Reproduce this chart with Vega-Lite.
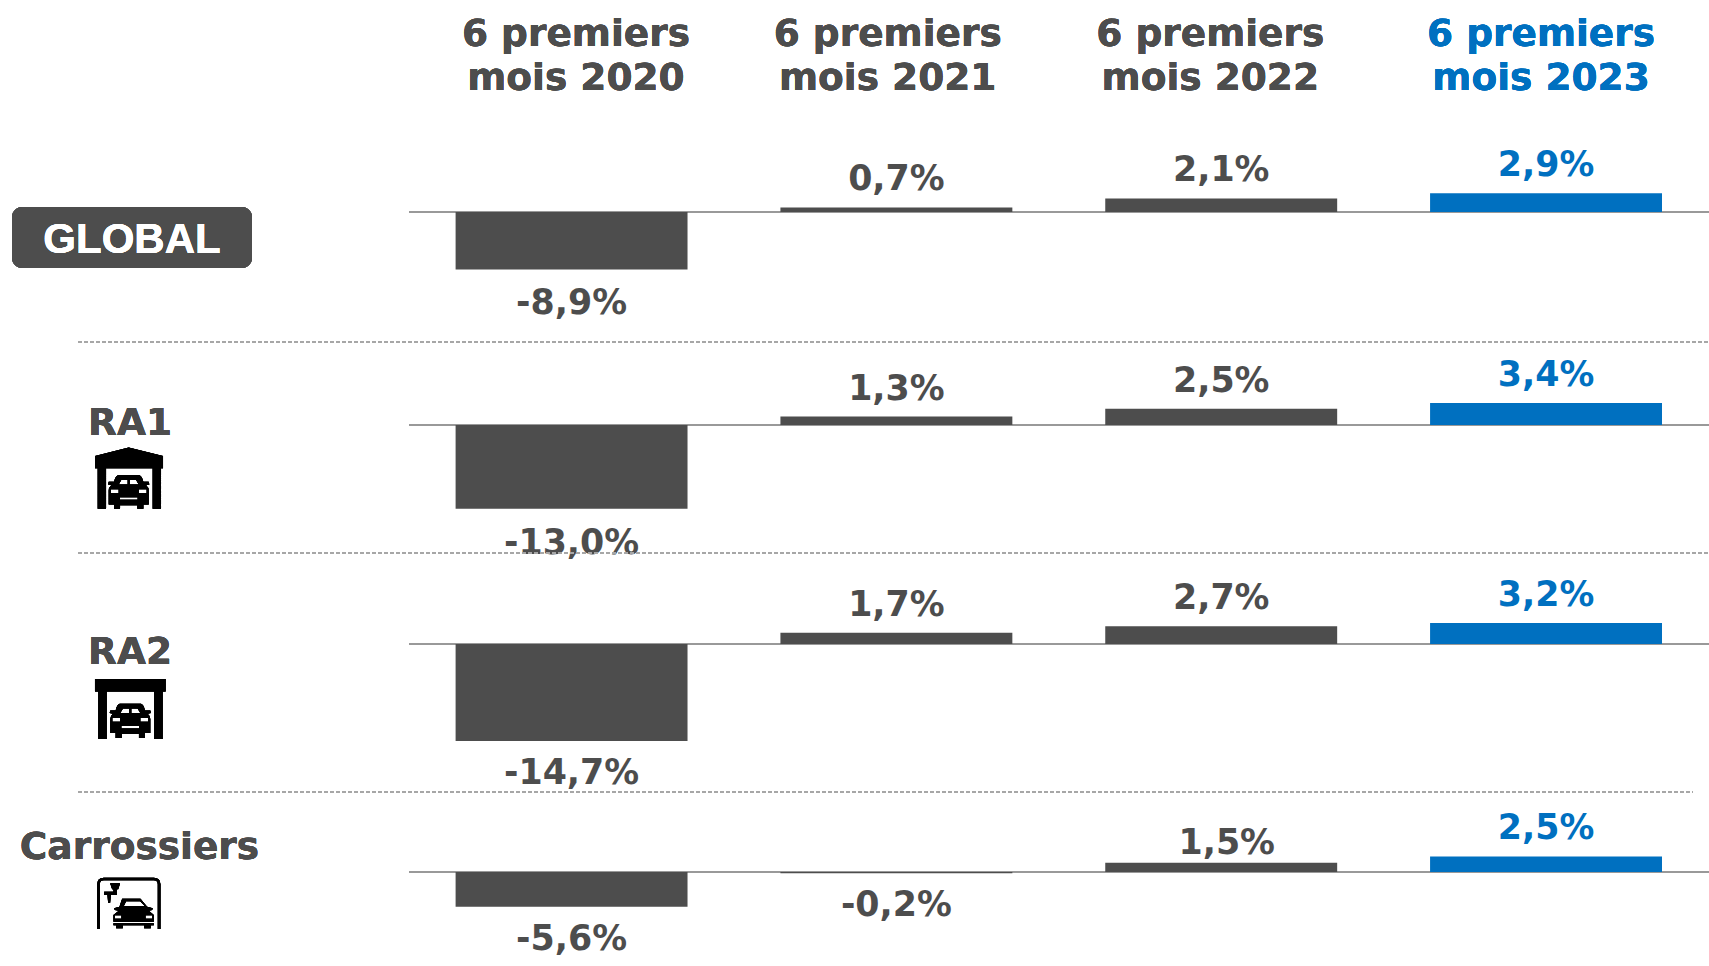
{
"$schema":"https://vega.github.io/schema/vega-lite/v6.json",
"padding":0,"background":"white","spacing":0,"bounds":"flush",
"config":{"view":{"stroke":null},"axis":{"disable":true},"legend":{"disable":true},"text":{"font":"DejaVu Sans","fontWeight":"bold"}},
"datasets":{"d":[
{"row":"GLOBAL","period":"2020","value":-8.9,"label":"-8,9%"},{"row":"GLOBAL","period":"2021","value":0.7,"label":"0,7%"},{"row":"GLOBAL","period":"2022","value":2.1,"label":"2,1%"},{"row":"GLOBAL","period":"2023","value":2.9,"label":"2,9%"},
{"row":"RA1","period":"2020","value":-13.0,"label":"-13,0%"},{"row":"RA1","period":"2021","value":1.3,"label":"1,3%"},{"row":"RA1","period":"2022","value":2.5,"label":"2,5%"},{"row":"RA1","period":"2023","value":3.4,"label":"3,4%"},
{"row":"RA2","period":"2020","value":-14.7,"label":"-14,7%"},{"row":"RA2","period":"2021","value":1.7,"label":"1,7%"},{"row":"RA2","period":"2022","value":2.7,"label":"2,7%"},{"row":"RA2","period":"2023","value":3.2,"label":"3,2%"},
{"row":"Carrossiers","period":"2020","value":-5.6,"label":"-5,6%"},{"row":"Carrossiers","period":"2021","value":-0.2,"label":"-0,2%"},{"row":"Carrossiers","period":"2022","value":1.5,"label":"1,5%"},{"row":"Carrossiers","period":"2023","value":2.5,"label":"2,5%"}
]},
"vconcat":[
{"width":1709,"height":342,"data":{"name":"d"},"transform":[{"filter":"datum.row==='GLOBAL'"}],"resolve":{"scale":{"x":"independent"}},
"layer":[
{"mark":{"type":"rule","color":"#999999","strokeWidth":2},"encoding":{"x":{"datum":0,"type":"quantitative","scale":{"domain":[0,1],"range":[409,1709]}},"x2":{"datum":1},"y":{"datum":0,"type":"quantitative","scale":{"domain":[-20.155,32.868],"nice":false,"zero":false}}}},
{"mark":{"type":"bar"},"encoding":{"x":{"field":"period","type":"nominal","scale":{"type":"band","domain":["2020","2021","2022","2023"],"range":[455.6,1662],"paddingInner":0.286,"paddingOuter":0}},"y":{"field":"value","type":"quantitative"},"color":{"field":"period","type":"nominal","scale":{"domain":["2020","2021","2022","2023"],"range":["#4d4d4d","#4d4d4d","#4d4d4d","#0070c0"]}}}},
{"transform":[{"filter":"datum.value>0"}],"mark":{"type":"text","fontSize":34.8,"dy":-27,"baseline":"middle"},"encoding":{"x":{"field":"period","type":"nominal","scale":{"type":"band","domain":["2020","2021","2022","2023"],"range":[455.6,1662],"paddingInner":0.286,"paddingOuter":0}},"y":{"field":"value","type":"quantitative"},"text":{"field":"label"},"color":{"field":"period","type":"nominal"}}},
{"transform":[{"filter":"datum.value<0"}],"mark":{"type":"text","fontSize":34.8,"dy":35,"baseline":"middle"},"encoding":{"x":{"field":"period","type":"nominal","scale":{"type":"band","domain":["2020","2021","2022","2023"],"range":[455.6,1662],"paddingInner":0.286,"paddingOuter":0}},"y":{"field":"value","type":"quantitative"},"text":{"field":"label"},"color":{"field":"period","type":"nominal"}}},
{"mark":{"type":"text","fontSize":37.5,"lineHeight":44,"baseline":"middle","dx":4.4,"color":"#4d4d4d"},"encoding":{"x":{"datum":"2020","type":"nominal","scale":{"type":"band","domain":["2020","2021","2022","2023"],"range":[455.6,1662],"paddingInner":0.286,"paddingOuter":0}},"y":{"datum":27.4},"text":{"value":["6 premiers","mois 2020"]}}},
{"mark":{"type":"text","fontSize":37.5,"lineHeight":44,"baseline":"middle","dx":-8.7,"color":"#4d4d4d"},"encoding":{"x":{"datum":"2021","type":"nominal","scale":{"type":"band","domain":["2020","2021","2022","2023"],"range":[455.6,1662],"paddingInner":0.286,"paddingOuter":0}},"y":{"datum":27.4},"text":{"value":["6 premiers","mois 2021"]}}},
{"mark":{"type":"text","fontSize":37.5,"lineHeight":44,"baseline":"middle","dx":-10.9,"color":"#4d4d4d"},"encoding":{"x":{"datum":"2022","type":"nominal","scale":{"type":"band","domain":["2020","2021","2022","2023"],"range":[455.6,1662],"paddingInner":0.286,"paddingOuter":0}},"y":{"datum":27.4},"text":{"value":["6 premiers","mois 2022"]}}},
{"mark":{"type":"text","fontSize":37.5,"lineHeight":44,"baseline":"middle","dx":-5,"color":"#0070c0"},"encoding":{"x":{"datum":"2023","type":"nominal","scale":{"type":"band","domain":["2020","2021","2022","2023"],"range":[455.6,1662],"paddingInner":0.286,"paddingOuter":0}},"y":{"datum":27.4},"text":{"value":["6 premiers","mois 2023"]}}},
{"mark":{"type":"rect","color":"#4d4d4d","cornerRadius":10},"encoding":{"x":{"datum":"GLOBAL","type":"nominal","scale":{"type":"band","domain":["GLOBAL"],"range":[12,252],"paddingInner":0,"paddingOuter":0}},"y":{"datum":0.775},"y2":{"datum":-8.68}}},
{"mark":{"type":"text","fontSize":42,"font":"Liberation Sans","color":"white","baseline":"middle"},"encoding":{"x":{"datum":"GLOBAL","type":"nominal","scale":{"type":"band","domain":["GLOBAL"],"range":[12,252],"paddingInner":0,"paddingOuter":0}},"y":{"datum":-4.36},"text":{"value":"GLOBAL"}}},
{"mark":{"type":"rule","color":"#a6a6a6","strokeWidth":1.5,"strokeDash":[4,2]},"encoding":{"x":{"datum":0,"type":"quantitative","scale":{"domain":[0,1],"range":[78,1709]}},"x2":{"datum":1},"y":{"datum":-20.155}}}
]},
{"width":1709,"height":211,"data":{"name":"d"},"transform":[{"filter":"datum.row==='RA1'"}],"resolve":{"scale":{"x":"independent"}},
"layer":[
{"mark":{"type":"rule","color":"#999999","strokeWidth":2},"encoding":{"x":{"datum":0,"type":"quantitative","scale":{"domain":[0,1],"range":[409,1709]}},"x2":{"datum":1},"y":{"datum":0,"type":"quantitative","scale":{"domain":[-19.845,12.868],"nice":false,"zero":false}}}},
{"mark":{"type":"bar"},"encoding":{"x":{"field":"period","type":"nominal","scale":{"type":"band","domain":["2020","2021","2022","2023"],"range":[455.6,1662],"paddingInner":0.286,"paddingOuter":0}},"y":{"field":"value","type":"quantitative"},"color":{"field":"period","type":"nominal","scale":{"domain":["2020","2021","2022","2023"],"range":["#4d4d4d","#4d4d4d","#4d4d4d","#0070c0"]}}}},
{"transform":[{"filter":"datum.value>0"}],"mark":{"type":"text","fontSize":34.8,"dy":-27,"baseline":"middle"},"encoding":{"x":{"field":"period","type":"nominal","scale":{"type":"band","domain":["2020","2021","2022","2023"],"range":[455.6,1662],"paddingInner":0.286,"paddingOuter":0}},"y":{"field":"value","type":"quantitative"},"text":{"field":"label"},"color":{"field":"period","type":"nominal"}}},
{"transform":[{"filter":"datum.value<0"}],"mark":{"type":"text","fontSize":34.8,"dy":35,"baseline":"middle"},"encoding":{"x":{"field":"period","type":"nominal","scale":{"type":"band","domain":["2020","2021","2022","2023"],"range":[455.6,1662],"paddingInner":0.286,"paddingOuter":0}},"y":{"field":"value","type":"quantitative"},"text":{"field":"label"},"color":{"field":"period","type":"nominal"}}},
{"mark":{"type":"text","fontSize":37.5,"baseline":"middle","color":"#4d4d4d"},"encoding":{"x":{"datum":"RA1","type":"nominal","scale":{"type":"band","domain":["RA1"],"range":[120,140],"paddingInner":0,"paddingOuter":0}},"y":{"datum":0.17},"text":{"value":"RA1"}}},
{"mark":{"type":"point","filled":true,"opacity":1,"color":"black","size":0.444,"shape":"M0,-93 L-101,-68 L-101,-31 L103,-31 L103,-68 Z M-93,-31 L-68,-31 L-68,91 L-93,91 Z M72,-31 L97,-31 L97,91 L72,91 Z M-32,-10 L32,-10 Q40,-8 44,10 L60,10 L62,18 L52,20 Q60,26 60,36 L60,78 L44,78 L44,91 L26,91 L26,80 L-26,80 L-26,91 L-44,91 L-44,78 L-60,78 L-60,36 Q-60,26 -52,20 L-62,18 L-60,10 L-44,10 Q-40,-8 -32,-10 Z M-30,18 L-3,18 L-3,4 L-22,4 Z M3,18 L30,18 L22,4 L3,4 Z M-54,44 L-30,44 L-30,32 L-54,32 Z M30,44 L54,44 L54,32 L30,32 Z M-27,64 L27,64 L27,56 L-27,56 Z"},"encoding":{"x":{"datum":"RA1","type":"nominal","scale":{"type":"band","domain":["RA1"],"range":[118.7,138.7],"paddingInner":0,"paddingOuter":0}},"y":{"datum":-8.3}}},
{"mark":{"type":"rule","color":"#a6a6a6","strokeWidth":1.5,"strokeDash":[4,2]},"encoding":{"x":{"datum":0,"type":"quantitative","scale":{"domain":[0,1],"range":[78,1709]}},"x2":{"datum":1},"y":{"datum":-19.845}}}
]},
{"width":1709,"height":239,"data":{"name":"d"},"transform":[{"filter":"datum.row==='RA2'"}],"resolve":{"scale":{"x":"independent"}},
"layer":[
{"mark":{"type":"rule","color":"#999999","strokeWidth":2},"encoding":{"x":{"datum":0,"type":"quantitative","scale":{"domain":[0,1],"range":[409,1709]}},"x2":{"datum":1},"y":{"datum":0,"type":"quantitative","scale":{"domain":[-22.424,13.788],"nice":false,"zero":false}}}},
{"mark":{"type":"bar"},"encoding":{"x":{"field":"period","type":"nominal","scale":{"type":"band","domain":["2020","2021","2022","2023"],"range":[455.6,1662],"paddingInner":0.286,"paddingOuter":0}},"y":{"field":"value","type":"quantitative"},"color":{"field":"period","type":"nominal","scale":{"domain":["2020","2021","2022","2023"],"range":["#4d4d4d","#4d4d4d","#4d4d4d","#0070c0"]}}}},
{"transform":[{"filter":"datum.value>0"}],"mark":{"type":"text","fontSize":34.8,"dy":-27,"baseline":"middle"},"encoding":{"x":{"field":"period","type":"nominal","scale":{"type":"band","domain":["2020","2021","2022","2023"],"range":[455.6,1662],"paddingInner":0.286,"paddingOuter":0}},"y":{"field":"value","type":"quantitative"},"text":{"field":"label"},"color":{"field":"period","type":"nominal"}}},
{"transform":[{"filter":"datum.value<0"}],"mark":{"type":"text","fontSize":34.8,"dy":33,"baseline":"middle"},"encoding":{"x":{"field":"period","type":"nominal","scale":{"type":"band","domain":["2020","2021","2022","2023"],"range":[455.6,1662],"paddingInner":0.286,"paddingOuter":0}},"y":{"field":"value","type":"quantitative"},"text":{"field":"label"},"color":{"field":"period","type":"nominal"}}},
{"mark":{"type":"text","fontSize":37.5,"baseline":"middle","color":"#4d4d4d"},"encoding":{"x":{"datum":"RA2","type":"nominal","scale":{"type":"band","domain":["RA2"],"range":[120,140],"paddingInner":0,"paddingOuter":0}},"y":{"datum":-1.29},"text":{"value":"RA2"}}},
{"mark":{"type":"point","filled":true,"opacity":1,"color":"black","size":0.444,"shape":"M-106,-90 L106,-90 L106,-53 L-106,-53 Z M-96,-53 L-71,-53 L-71,90 L-96,90 Z M72,-53 L97,-53 L97,90 L72,90 Z M-32,-16 L32,-16 Q40,-14 44,4 L60,4 L62,12 L52,14 Q60,20 60,30 L60,72 L44,72 L44,87 L26,87 L26,74 L-26,74 L-26,87 L-44,87 L-44,72 L-60,72 L-60,30 Q-60,20 -52,14 L-62,12 L-60,4 L-44,4 Q-40,-14 -32,-16 Z M-30,12 L-3,12 L-3,-2 L-22,-2 Z M3,12 L30,12 L22,-2 L3,-2 Z M-54,38 L-30,38 L-30,26 L-54,26 Z M30,38 L54,38 L54,26 L30,26 Z M-27,58 L27,58 L27,50 L-27,50 Z"},"encoding":{"x":{"datum":"RA2","type":"nominal","scale":{"type":"band","domain":["RA2"],"range":[120.3,140.3],"paddingInner":0,"paddingOuter":0}},"y":{"datum":-9.86}}},
{"mark":{"type":"rule","color":"#a6a6a6","strokeWidth":1.5,"strokeDash":[4,2]},"encoding":{"x":{"datum":0,"type":"quantitative","scale":{"domain":[0,1],"range":[78,1693]}},"x2":{"datum":1},"y":{"datum":-22.424}}}
]},
{"width":1709,"height":174,"data":{"name":"d"},"transform":[{"filter":"datum.row==='Carrossiers'"}],"resolve":{"scale":{"x":"independent"}},
"layer":[
{"mark":{"type":"rule","color":"#999999","strokeWidth":2},"encoding":{"x":{"datum":0,"type":"quantitative","scale":{"domain":[0,1],"range":[409,1709]}},"x2":{"datum":1},"y":{"datum":0,"type":"quantitative","scale":{"domain":[-15.161,12.903],"nice":false,"zero":false}}}},
{"mark":{"type":"bar"},"encoding":{"x":{"field":"period","type":"nominal","scale":{"type":"band","domain":["2020","2021","2022","2023"],"range":[455.6,1662],"paddingInner":0.286,"paddingOuter":0}},"y":{"field":"value","type":"quantitative"},"color":{"field":"period","type":"nominal","scale":{"domain":["2020","2021","2022","2023"],"range":["#4d4d4d","#4d4d4d","#4d4d4d","#0070c0"]}}}},
{"transform":[{"filter":"datum.value>0 && datum.period!=='2022'"}],"mark":{"type":"text","fontSize":34.8,"dy":-27,"baseline":"middle"},"encoding":{"x":{"field":"period","type":"nominal","scale":{"type":"band","domain":["2020","2021","2022","2023"],"range":[455.6,1662],"paddingInner":0.286,"paddingOuter":0}},"y":{"field":"value","type":"quantitative"},"text":{"field":"label"},"color":{"field":"period","type":"nominal"}}},
{"transform":[{"filter":"datum.period==='2022'"}],"mark":{"type":"text","fontSize":34.8,"dy":-19,"dx":5.5,"baseline":"middle"},"encoding":{"x":{"field":"period","type":"nominal","scale":{"type":"band","domain":["2020","2021","2022","2023"],"range":[455.6,1662],"paddingInner":0.286,"paddingOuter":0}},"y":{"field":"value","type":"quantitative"},"text":{"field":"label"},"color":{"field":"period","type":"nominal"}}},
{"transform":[{"filter":"datum.value<0"}],"mark":{"type":"text","fontSize":34.8,"dy":33,"baseline":"middle"},"encoding":{"x":{"field":"period","type":"nominal","scale":{"type":"band","domain":["2020","2021","2022","2023"],"range":[455.6,1662],"paddingInner":0.286,"paddingOuter":0}},"y":{"field":"value","type":"quantitative"},"text":{"field":"label"},"color":{"field":"period","type":"nominal"}}},
{"mark":{"type":"text","fontSize":37.5,"baseline":"middle","color":"#4d4d4d"},"encoding":{"x":{"datum":"Carrossiers","type":"nominal","scale":{"type":"band","domain":["Carrossiers"],"range":[129.5,149.5],"paddingInner":0,"paddingOuter":0}},"y":{"datum":3.87},"text":{"value":"Carrossiers"}}},
{"mark":{"type":"point","filled":true,"opacity":1,"color":"black","size":0.444,"shape":"M-95,77 L-95,-57 Q-95,-77 -75,-77 L75,-77 Q95,-77 95,-57 L95,77 L87,77 L87,-57 Q87,-69 75,-69 L-75,-69 Q-87,-69 -87,-57 L-87,77 Z M-56,-60 L-26,-60 L-32,-42 L-50,-42 Z M-46,-42 L-36,-42 L-36,-25 L-46,-25 Z M-74,-35 L-41,-35 L-41,-25 L-74,-25 Z M-64,-25 L-54,-25 L-56,-2 L-62,-2 Z M-20,-14 L35,-14 L55,10 L72,15 L70,20 L60,22 L75,35 L75,55 L-46,55 L-46,35 L-30,22 L-42,20 L-44,15 L-28,10 Z M-15,8 L48,8 L34,-6 L-8,-6 Z M-42,46 L-22,46 L-22,36 L-42,36 Z M50,46 L70,46 L70,36 L50,36 Z M-46,60 L75,60 L75,66 L-46,66 Z M-38,66 L-18,66 L-18,75 L-38,75 Z M46,66 L66,66 L66,75 L46,75 Z"},"encoding":{"x":{"datum":"Carrossiers","type":"nominal","scale":{"type":"band","domain":["Carrossiers"],"range":[118.8,138.8],"paddingInner":0,"paddingOuter":0}},"y":{"datum":-5.05}}}
]}
]
}
